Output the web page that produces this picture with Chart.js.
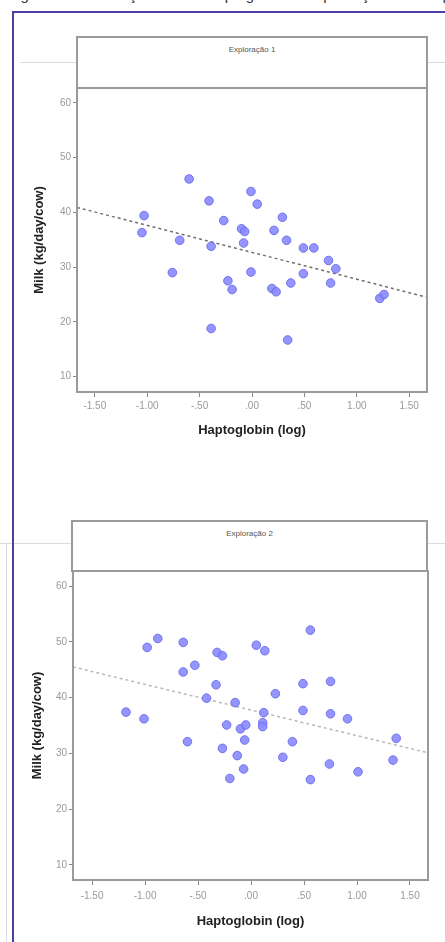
<!DOCTYPE html>
<html>
<head>
<meta charset="utf-8">
<script src="https://cdn.jsdelivr.net/npm/chart.js@4"></script>
<style>
    body { margin: 0; width: 445px; height: 942px; overflow: hidden; background: #fff; position: relative; font-family: "Liberation Sans", Arial, sans-serif; }
    .caption { position: absolute; left: 8px; top: -14px; font-size: 15px; color: #333; white-space: nowrap; }
    .frameTop { position: absolute; left: 12px; top: 11px; width: 433px; height: 2px; background: #4b3fa3; }
    .frameLeft { position: absolute; left: 12px; top: 11px; width: 2px; height: 931px; background: #4b3fa3; }
    .faint { position: absolute; background: #dcdcdc; }
    .header { position: absolute; box-sizing: border-box; border: 2px solid #9a9a9a; background: #fff; text-align: center; font-size: 8px; color: #555; padding-top: 7px; }
    canvas { position: absolute; }
</style>
</head>
<body>
<div class="caption">Figura 2 – Correlação entre a haptoglobina e a produção de leite por exploração</div>
<div class="faint" style="left:20px; top:62px; width:425px; height:1px;"></div>
<div class="faint" style="left:0; top:543px; width:445px; height:1px;"></div>
<div class="faint" style="left:6px; top:543px; width:1px; height:399px;"></div>
<div class="frameTop"></div>
<div class="frameLeft"></div>

<div class="header" id="head1" style="left:76px; top:36px; width:352px; height:53px;"></div>
<div style="position:absolute; left:14px; top:80px; width:431px; height:370px;"><canvas id="chart1"></canvas></div>

<div class="header" id="head2" style="left:71px; top:520px; width:357px; height:52px;"></div>
<div style="position:absolute; left:14px; top:563px; width:431px; height:379px;"><canvas id="chart2"></canvas></div>

<script>
// panel titles and axis labels
const panelTitles = ['Exploração 1', 'Exploração 2'];
const xTitle = 'Haptoglobin (log)';
const yTitle = 'Milk (kg/day/cow)';
const xTicks = [-1.5, -1.0, -0.5, 0, 0.5, 1.0, 1.5];
const yTicks = [10, 20, 30, 40, 50, 60];

// Exploração 1 - haptoglobin (log) vs milk
const exp1X = [-0.60, -0.41, -0.01, 0.05, -1.03, -1.05, -0.27, 0.29, -0.10, -0.07, 0.21, -0.69, -0.39, -0.08, 0.33, 0.49,
    0.59, 0.73, 0.80, -0.76, -0.01, 0.49, -0.23, -0.19, 0.19, 0.23, 0.37, 0.75, 1.22, 1.26, -0.39, 0.34];
const exp1Y = [46.1, 42.1, 43.8, 41.5, 39.4, 36.3, 38.5, 39.1, 37.0, 36.5, 36.7, 34.9, 33.8, 34.4, 34.9, 33.5,
    33.5, 31.2, 29.7, 29.0, 29.1, 28.8, 27.5, 25.9, 26.1, 25.5, 27.1, 27.1, 24.3, 25.0, 18.8, 16.7];
const fit1X = [-1.67, 1.67];
const fit1Y = [40.9, 24.5];

// Exploração 2
const exp2X = [0.56, -0.88, -0.98, -0.64, 0.05, 0.13, -0.32, -0.27, -0.64, -0.53, -0.33, 0.49, 0.75, 0.23, -0.42, -0.15,
    -1.18, -1.01, 0.12, 0.49, 0.75, 0.91, -0.23, -0.10, -0.05, 0.11, 0.11, -0.60, -0.06, 0.39, 1.37, -0.27,
    -0.13, 0.30, 1.34, 0.74, -0.07, 1.01, -0.20, 0.56];
const exp2Y = [52.1, 50.6, 49.0, 49.9, 49.4, 48.4, 48.1, 47.5, 44.6, 45.8, 42.3, 42.5, 42.9, 40.7, 39.9, 39.1,
    37.4, 36.2, 37.3, 37.7, 37.1, 36.2, 35.1, 34.4, 35.1, 35.5, 34.8, 32.1, 32.4, 32.1, 32.7, 30.9,
    29.6, 29.3, 28.8, 28.1, 27.2, 26.7, 25.5, 25.3];
const fit2X = [-1.68, 1.67];
const fit2Y = [45.5, 30.1];

document.getElementById('head1').textContent = panelTitles[0];
document.getElementById('head2').textContent = panelTitles[1];

// SPSS style tick text: .50, -.50, 1.00
function spssLabel(v) {
    let s = Math.abs(v).toFixed(2);
    if (s.startsWith('0')) s = s.slice(1);
    return (v < 0 ? '-' : '') + s;
}

// grey box round the plot area
const boxPlugin = {
    id: 'box',
    afterDatasetsDraw(chart) {
        const a = chart.chartArea;
        const ctx = chart.ctx;
        ctx.save();
        ctx.strokeStyle = '#9a9a9a';
        ctx.lineWidth = 2;
        ctx.strokeRect(a.left, a.top, a.right - a.left, a.bottom - a.top);
        ctx.restore();
    }
};

function makeChart(id, xs, ys, fx, fy, opt) {
    const points = xs.map((x, i) => ({ x: x, y: ys[i] }));
    const fit = fx.map((x, i) => ({ x: x, y: fy[i] }));
    return new Chart(document.getElementById(id), {
        type: 'scatter',
        data: {
            datasets: [{
                data: points,
                backgroundColor: 'rgba(138,138,255,0.9)',
                borderColor: 'rgba(105,105,235,0.9)',
                borderWidth: 1,
                pointRadius: 4.3,
                order: 0
            }, {
                data: fit,
                showLine: true,
                borderColor: opt.lineColor,
                borderWidth: 1.5,
                borderDash: [3, 3],
                pointRadius: 0,
                order: 1
            }]
        },
        options: {
            responsive: true,
            maintainAspectRatio: false,
            animation: false,
            layout: { padding: { left: 0, top: 8, right: opt.right, bottom: 0 } },
            plugins: { legend: { display: false }, tooltip: { enabled: false } },
            scales: {
                x: {
                    type: 'linear',
                    min: opt.xMin,
                    max: opt.xMax,
                    afterBuildTicks: s => { s.ticks = xTicks.map(v => ({ value: v })); },
                    afterFit: s => { s.height = opt.xHeight; },
                    grid: { drawOnChartArea: false, tickLength: 5, color: '#888' },
                    border: { display: false },
                    ticks: { callback: v => spssLabel(v), color: '#999', font: { size: 10 }, padding: opt.xPad, maxRotation: 0, autoSkip: false },
                    title: { display: true, text: xTitle, color: '#222', font: { size: 13, weight: 'bold' }, padding: { top: 0, bottom: opt.xTitlePad } }
                },
                y: {
                    min: opt.yMin,
                    max: opt.yMax,
                    afterBuildTicks: s => { s.ticks = yTicks.map(v => ({ value: v })); },
                    afterFit: s => { s.width = opt.yWidth; },
                    grid: { drawOnChartArea: false, tickLength: 4, color: '#888' },
                    border: { display: false },
                    ticks: { color: '#999', font: { size: 10 }, padding: 2 },
                    title: { display: true, text: yTitle, color: '#222', font: { size: 13, weight: 'bold' }, padding: { top: opt.yTitlePad, bottom: 0 } }
                }
            }
        },
        plugins: [boxPlugin]
    });
}

makeChart('chart1', exp1X, exp1Y, fit1X, fit1Y, {
    xMin: -1.67, xMax: 1.67, yMin: 7.2, yMax: 62.7,
    right: 18, xHeight: 58, yWidth: 63, xPad: 3, xTitlePad: 12, yTitlePad: 18,
    lineColor: '#707070'
});

makeChart('chart2', exp2X, exp2Y, fit2X, fit2Y, {
    xMin: -1.68, xMax: 1.67, yMin: 7.3, yMax: 62.7,
    right: 17, xHeight: 62, yWidth: 59, xPad: 5, xTitlePad: 13, yTitlePad: 16,
    lineColor: '#b8b8b8'
});
</script>
</body>
</html>
